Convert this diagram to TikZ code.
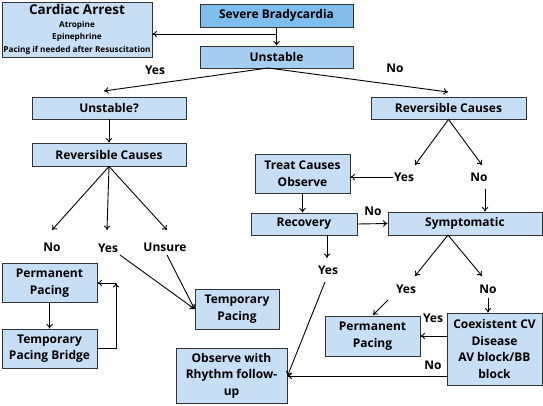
\documentclass[tikz,border=0pt]{standalone}
\usepackage{fontspec}
\setmainfont{Open Sans}
\usetikzlibrary{arrows.meta, positioning}
\definecolor{boxblue}{HTML}{C7DEF5}
\definecolor{topblue}{HTML}{7EBDEC}
\definecolor{midblue}{HTML}{A7CEF0}

\begin{document}
\begin{tikzpicture}[x=1pt, y=-1pt,
  box/.style={draw=black!80, line width=0.9pt, fill=boxblue, align=center, inner sep=1pt,
    font=\bfseries\fontsize{12}{16.5}\selectfont},
  lbl/.style={font=\bfseries\fontsize{12}{14}\selectfont, inner sep=1pt},
  arr/.style={-{To[length=4.5pt,width=6.5pt]}, line width=0.9pt}]
  \useasboundingbox (0,0) rectangle (543,405);

  % Haut du schema
  \node[box, minimum width=150, minimum height=55] (cardiac) at (77,29.5)
    {{\fontsize{13.5}{15}\selectfont Cardiac Arrest}\\[-4pt]
     {\fontsize{8.2}{11.5}\selectfont Atropine}\\[-4pt]
     {\fontsize{8.2}{11.5}\selectfont Epinephrine}\\[-4pt]
     {\fontsize{8.2}{11.5}\selectfont Pacing if needed after Resuscitation}};
  \node[box, fill=topblue, minimum width=153, minimum height=23] (severe) at (276.5,15.5) {Severe Bradycardia};
  \node[box, fill=midblue, minimum width=153, minimum height=22] (unstable) at (276.5,57) {Unstable};

  \coordinate (split) at (276.5,34);
  \draw[arr] (severe.south) -- (unstable.north);
  \draw[arr] (split) -- (split -| cardiac.east);

  \node[lbl] (yes1) at (155,70) {Yes};
  \node[lbl] (no1) at (395,68) {No};
  \coordinate (uFork) at (268,68);
  \coordinate (aYes1) at (104,91);
  \coordinate (aNo1) at (448,92);
  \draw[arr] (uFork) -- (aYes1);
  \draw[arr] (uFork) -- (aNo1);

  % Branche gauche
  \node[box, minimum width=154, minimum height=22] (unstableq) at (109,108) {Unstable?};
  \node[box, minimum width=154, minimum height=23] (revL) at (109,154.5) {Reversible Causes};
  \draw[arr] (unstableq.south) -- (revL.north);

  \node[lbl] (noL) at (52,247) {No};
  \node[lbl] (yesL) at (108,248) {Yes};
  \node[lbl] (unsure) at (165,247) {Unsure};
  \foreach \x/\n in {52/aNoL, 107/aYesL, 167/aUnsure} {
    \coordinate (\n) at (\x,230);
    \draw[arr] (revL.south) -- (\n);
  }

  \node[box, minimum width=95, minimum height=39] (permL) at (49.5,283) {Permanent\\Pacing};
  \node[box, minimum width=95, minimum height=39] (bridge) at (49.5,348.5) {Temporary\\Pacing Bridge};
  \node[box, minimum width=84, minimum height=40] (tempP) at (237,309) {Temporary\\Pacing};
  \draw[arr] (permL.south) -- (bridge.north);
  \coordinate (loop) at (116,283);
  \draw[arr] (bridge.east) -| (loop);
  \draw[arr] (loop) -- (permL.east);

  \coordinate (sYesL) at (120,255);
  \coordinate (sUnsure) at (167,255);
  \draw[arr] (sYesL) -- (tempP.west);
  \draw[arr] (sUnsure) -- (tempP.west);

  % Branche droite
  \node[box, minimum width=155, minimum height=22] (revR) at (448.5,108) {Reversible Causes};
  \node[lbl] (yesT) at (404,177) {Yes};
  \node[lbl] (noT) at (479,177) {No};
  \coordinate (aYesT) at (415,165);
  \coordinate (aNoT) at (482,165);
  \draw[arr] (revR.south) -- (aYesT);
  \draw[arr] (revR.south) -- (aNoT);

  \node[box, minimum width=95, minimum height=39] (treat) at (302.5,173.5) {Treat Causes\\Observe};
  \node[box, minimum width=106, minimum height=22] (recovery) at (304,224) {Recovery};
  \node[box, minimum width=154, minimum height=23] (sympt) at (465,223.5) {Symptomatic};

  \coordinate (sYesT) at (393,177);
  \coordinate (sNoT) at (485,189);
  \draw[arr] (sYesT) -- (sYesT -| treat.east);
  \draw[arr] (sNoT) -- (sNoT |- sympt.north);
  \draw[arr] (treat.south) -- (treat.south |- recovery.north);
  \draw[arr] (recovery.east) -- (sympt.west);
  \node[lbl] (noR) at (373,211) {No};

  \node[lbl] (yesR) at (328,270) {Yes};
  \coordinate (sRec) at (327,235);
  \coordinate (aRec) at (327,258);
  \draw[arr] (sRec) -- (aRec);

  \node[lbl] (yesS) at (406,289) {Yes};
  \node[lbl] (noS) at (488,289) {No};
  \coordinate (sFork) at (448,235);
  \coordinate (aYesS) at (415,276);
  \coordinate (aNoS) at (482,276);
  \draw[arr] (sFork) -- (aYesS);
  \draw[arr] (sFork) -- (aNoS);

  % Bas du schema
  \node[box, minimum width=111, minimum height=55] (observe) at (231.5,375.5) {Observe with\\Rhythm follow-\\up};
  \node[box, minimum width=95, minimum height=40] (permR) at (372.5,336) {Permanent\\Pacing};
  \node[box, minimum width=95, minimum height=72] (coex) at (494.5,349) {Coexistent CV\\Disease\\AV block/BB\\block};

  \coordinate (sYesR) at (325,282);
  \coordinate (aObs) at (observe.east |- 0,376);
  \draw[arr] (sYesR) -- (aObs);

  \coordinate (sYesS) at (388,300);
  \coordinate (aPermR) at (373,315);
  \draw[arr] (sYesS) -- (aPermR);
  \coordinate (sNoS) at (488,298);
  \draw[arr] (sNoS) -- (sNoS |- coex.north);

  \draw[arr] (coex.west |- permR.east) -- (permR.east);
  \draw[arr] (coex.west |- aObs) -- (aObs);
  \node[lbl] (yesC) at (433,318) {Yes};
  \node[lbl] (noC) at (433,365) {No};
\end{tikzpicture}
\end{document}
